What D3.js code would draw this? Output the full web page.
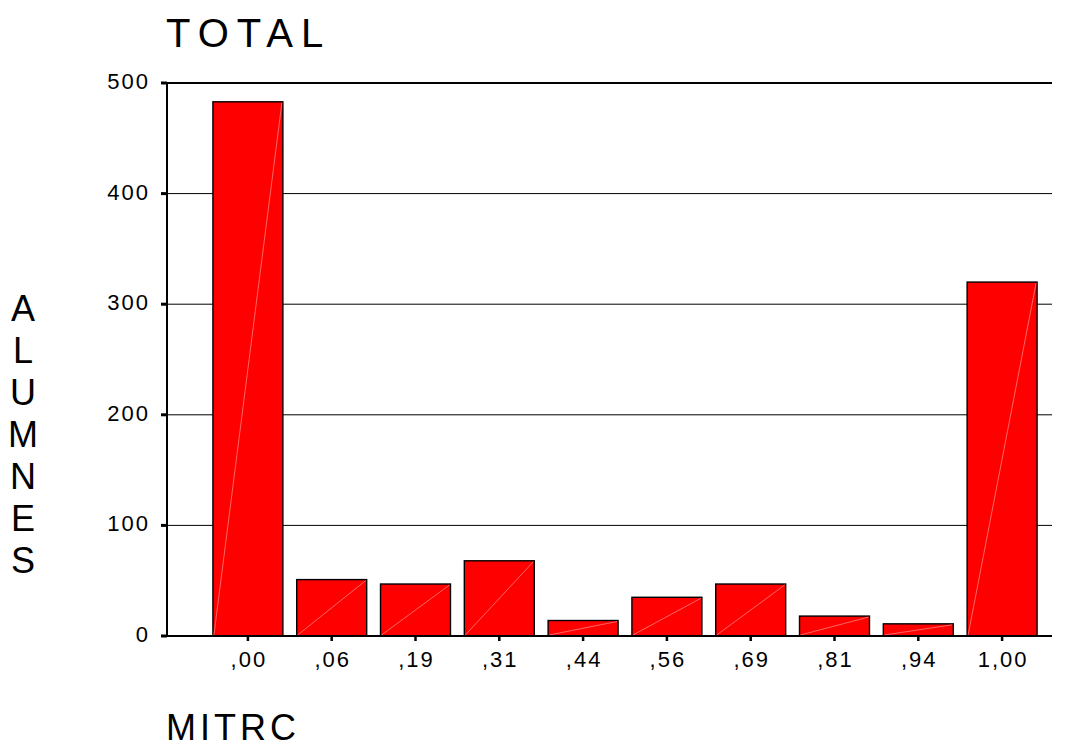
<!DOCTYPE html>
<html>
<head>
<meta charset="utf-8">
<script src="https://cdn.jsdelivr.net/npm/d3@7"></script>
<style>
  body { margin: 0; background: white; }
  svg { display: block; font-family: "Liberation Sans", Arial, sans-serif; }
</style>
</head>
<body>
<svg class="chart" width="1076" height="749"></svg>
<script>
const categories = [",00", ",06", ",19", ",31", ",44", ",56", ",69", ",81", ",94", "1,00"];
const counts = [483, 51, 47, 68, 14, 35, 47, 18, 11, 320];
const yTicks = [0, 100, 200, 300, 400, 500];
const title = "TOTAL";
const xTitle = "MITRC";
const yTitle = "ALUMNES";

const plotLeft = 167;
const plotRight = 1052;
const plotTop = 83;
const plotBottom = 636;

const svg = d3.select("svg.chart");

const x = d3
  .scaleBand()
  .domain(categories)
  .range([206, 1044])
  .paddingInner(0.165)
  .paddingOuter(0.0825);

const y = d3.scaleLinear().domain([0, 500]).range([plotBottom, plotTop]);

// grid lines
svg
  .append("g")
  .attr("class", "grid")
  .selectAll("line")
  .data(yTicks.filter((d) => d > 0))
  .join("line")
  .attr("x1", plotLeft)
  .attr("x2", plotRight)
  .attr("y1", (d) => y(d))
  .attr("y2", (d) => y(d))
  .attr("stroke", "#000")
  .attr("stroke-width", (d) => (d === 500 ? 2 : 1));

// bars
const bars = svg
  .append("g")
  .attr("class", "bars")
  .selectAll("g")
  .data(categories.map((c, i) => ({ cat: c, value: counts[i] })))
  .join("g");

bars
  .append("rect")
  .attr("x", (d) => x(d.cat))
  .attr("y", (d) => y(d.value))
  .attr("width", x.bandwidth())
  .attr("height", (d) => plotBottom - y(d.value))
  .attr("fill", "#ff0000")
  .attr("stroke", "#000")
  .attr("stroke-width", 1.4);

bars
  .append("line")
  .attr("x1", (d) => x(d.cat) + 1)
  .attr("y1", plotBottom - 1)
  .attr("x2", (d) => x(d.cat) + x.bandwidth() - 1)
  .attr("y2", (d) => y(d.value) + 1)
  .attr("stroke", "#ff9090")
  .attr("stroke-width", 0.7);

// axis lines
svg
  .append("line")
  .attr("x1", plotLeft)
  .attr("x2", plotLeft)
  .attr("y1", plotTop - 1)
  .attr("y2", plotBottom)
  .attr("stroke", "#000")
  .attr("stroke-width", 2);

svg
  .append("line")
  .attr("x1", plotLeft - 6)
  .attr("x2", plotRight)
  .attr("y1", plotBottom)
  .attr("y2", plotBottom)
  .attr("stroke", "#000")
  .attr("stroke-width", 2);

// y ticks
const yt = svg.append("g").attr("class", "y-ticks");
yt.selectAll("line")
  .data(yTicks)
  .join("line")
  .attr("x1", plotLeft - 6)
  .attr("x2", plotLeft)
  .attr("y1", (d) => y(d))
  .attr("y2", (d) => y(d))
  .attr("stroke", "#000")
  .attr("stroke-width", 3);
yt.selectAll("text")
  .data(yTicks)
  .join("text")
  .attr("x", 150)
  .attr("y", (d) => y(d) + 6)
  .attr("text-anchor", "end")
  .attr("font-size", 22)
  .attr("letter-spacing", 2)
  .attr("fill", "#000")
  .text((d) => d);

// x ticks
const xt = svg.append("g").attr("class", "x-ticks");
xt.selectAll("line")
  .data(categories)
  .join("line")
  .attr("x1", (d) => x(d) + x.bandwidth() / 2)
  .attr("x2", (d) => x(d) + x.bandwidth() / 2)
  .attr("y1", plotBottom)
  .attr("y2", plotBottom + 5)
  .attr("stroke", "#000")
  .attr("stroke-width", 2.5);
xt.selectAll("text")
  .data(categories)
  .join("text")
  .attr("x", (d) => x(d) + x.bandwidth() / 2 + 1)
  .attr("y", 667)
  .attr("text-anchor", "middle")
  .attr("font-size", 22)
  .attr("letter-spacing", 2)
  .attr("fill", "#000")
  .text((d) => d);

// titles
svg
  .append("text")
  .attr("x", 166)
  .attr("y", 47)
  .attr("font-size", 40)
  .attr("letter-spacing", 8)
  .text(title);

svg
  .append("text")
  .attr("x", 166)
  .attr("y", 740)
  .attr("font-size", 36)
  .attr("letter-spacing", 4)
  .text(xTitle);

svg
  .append("g")
  .selectAll("text")
  .data(yTitle.split(""))
  .join("text")
  .attr("x", 23)
  .attr("y", (d, i) => 321 + i * 42)
  .attr("text-anchor", "middle")
  .attr("font-size", 36)
  .text((d) => d);
</script>
</body>
</html>
